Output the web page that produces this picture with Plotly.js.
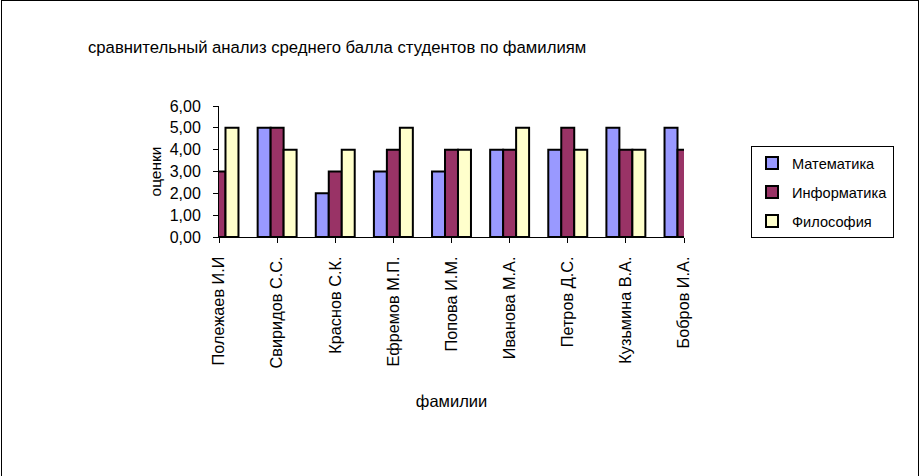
<!DOCTYPE html>
<html>
<head>
<meta charset="utf-8">
<script src="https://cdn.plot.ly/plotly-3.0.1.min.js"></script>
<style>
  html, body { margin: 0; padding: 0; background: #fff; }
  #frame { position: absolute; left: 1px; top: 0; width: 918px; height: 476px;
           box-sizing: border-box; border: 1px solid #000; border-bottom: none; }
  #chart { position: absolute; left: 0; top: 0; width: 920px; height: 476px; }
</style>
</head>
<body>
<div id="chart"></div>
<div id="frame"></div>
<script>
const students = ["Полежаев И.И", "Свиридов С.С.", "Краснов С.К.", "Ефремов М.П.", "Попова И.М.",
                  "Иванова М.А.", "Петров Д.С.", "Кузьмина В.А.", "Бобров И.А."];
const math       = [null, 5, 2, 3, 3, 4, 4, 5, 5];
const informatics= [3, 5, 3, 4, 4, 4, 5, 4, 4];
const philosophy = [5, 4, 4, 5, 4, 5, 4, 4, null];
const seriesNames = ["Математика", "Информатика", "Философия"];
const yTicks = [0, 1, 2, 3, 4, 5, 6];
const yTickText = ["0,00", "1,00", "2,00", "3,00", "4,00", "5,00", "6,00"];

const FONT = "Liberation Sans, Arial, sans-serif";
const colors = ["#9999FF", "#993366", "#FFFFCC"];
const series = [math, informatics, philosophy];

const traces = series.map((vals, i) => ({
  type: "bar",
  name: seriesNames[i],
  x: students,
  y: vals,
  legendgroup: "g" + i,
  marker: { color: colors[i], line: { color: "#000", width: 2 } }
}));

const layout = {
  width: 920, height: 476,
  paper_bgcolor: "#fff", plot_bgcolor: "#fff",
  margin: { l: 219, r: 236, t: 106, b: 239 },
  font: { family: FONT, size: 15, color: "#000" },
  barmode: "group",
  bargap: 0.33,
  bargroupgap: 0,
  title: {
    text: "сравнительный анализ среднего балла студентов по фамилиям",
    font: { family: FONT, size: 16.7, color: "#000" },
    x: 88 / 920, xanchor: "left", xref: "container",
    y: 1 - 47 / 476, yanchor: "middle", yref: "container"
  },
  xaxis: {
    type: "category",
    range: [0, 8],
    showline: true, linecolor: "#000", linewidth: 1,
    ticks: "outside", ticklen: 5, tickcolor: "#000",
    tickangle: -90,
    ticklabelstandoff: 7,
    showgrid: false, zeroline: false,
    automargin: false,
    tickfont: { family: FONT, size: 16.3, color: "#000" },
    title: { text: "фамилии", standoff: 27, font: { family: FONT, size: 16.5, color: "#000" } }
  },
  yaxis: {
    range: [0, 6],
    tickmode: "array", tickvals: yTicks, ticktext: yTickText,
    showline: true, linecolor: "#000", linewidth: 1,
    ticks: "outside", ticklen: 5, tickcolor: "#000",
    ticklabelstandoff: 9,
    showgrid: false, zeroline: false,
    automargin: false,
    tickfont: { family: FONT, size: 16, color: "#000" },
    title: { text: "оценки", standoff: 4, font: { family: FONT, size: 15.5, color: "#000" } }
  },
  showlegend: true,
  legend: {
    x: (751 - 219) / 465, xanchor: "left",
    y: (237 - 146) / 131, yanchor: "top",
    bordercolor: "#000", borderwidth: 1, bgcolor: "#fff",
    tracegroupgap: 7,
    itemwidth: 30,
    font: { family: FONT, size: 14.6, color: "#000" }
  }
};

Plotly.newPlot("chart", traces, layout, { displayModeBar: false, staticPlot: true });
</script>
</body>
</html>
